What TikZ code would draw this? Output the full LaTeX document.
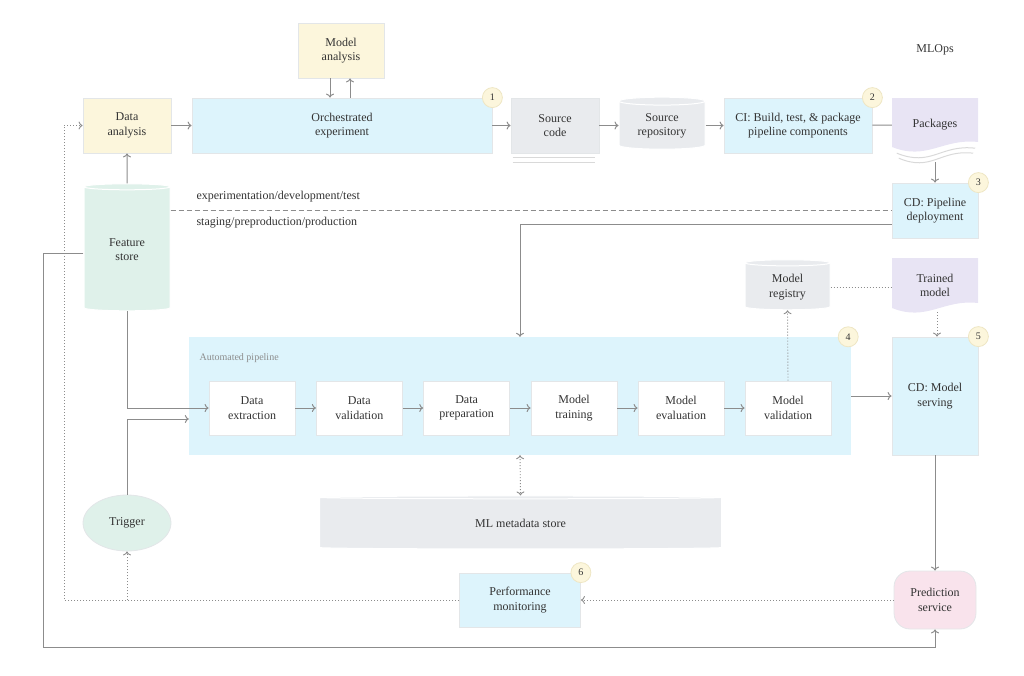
\documentclass[tikz,border=0pt]{standalone}
\usepackage{fontspec}
\setmainfont{Liberation Serif}
\usetikzlibrary{shapes.geometric,arrows.meta,positioning}

\definecolor{txt}{HTML}{333333}
\definecolor{arrgray}{HTML}{8C8C8C}
\definecolor{boxline}{HTML}{E3E6E8}
\definecolor{yfill}{HTML}{FCF6DC}
\definecolor{bfill}{HTML}{DDF4FC}
\definecolor{gfill}{HTML}{E9EBEE}
\definecolor{sfill}{HTML}{DFF1EA}
\definecolor{pfill}{HTML}{E8E4F4}
\definecolor{kfill}{HTML}{F9E3EC}
\definecolor{badgeline}{HTML}{EEE6C4}

\tikzset{
  box/.style={rectangle, draw=boxline, line width=0.8pt, text=txt, align=center,
    inner sep=2pt, minimum height=55pt},
  ybox/.style={box, fill=yfill},
  bbox/.style={box, fill=bfill},
  gbox/.style={box, fill=gfill},
  wbox/.style={box, fill=white, minimum width=86pt, minimum height=54pt},
  store/.style={cylinder, shape border rotate=90, aspect=0.15, draw=white,
    line width=1pt, text=txt, align=center, inner sep=2pt},
  doc/.style={rectangle, text=txt, align=center, inner sep=2pt,
    path picture={\fill[#1] (path picture bounding box.north west)
      -- (path picture bounding box.north east)
      -- ([yshift=10pt]path picture bounding box.south east)
      .. controls +(-35pt,4pt) and +(35pt,-14pt) ..
      ([yshift=5pt]path picture bounding box.south west) -- cycle;}},
  badge/.style={circle, draw=badgeline, line width=0.8pt, fill=yfill, text=txt,
    minimum size=20pt, inner sep=0pt, font=\fontsize{10}{12}\selectfont},
  arr/.style={-{To[length=4pt,width=8pt]}, draw=arrgray, line width=1pt},
  dbl/.style={{To[length=4pt,width=8pt]}-{To[length=4pt,width=8pt]}},
  dots/.style={draw=arrgray, line width=0.9pt, dash pattern=on 1pt off 2pt},
  envline/.style={draw=arrgray, line width=0.8pt, dash pattern=on 5pt off 3pt},
  shadowline/.style={draw=black!15, line width=1pt},
}

\begin{document}
\begin{tikzpicture}[x=1pt, y=-1pt, font=\fontsize{12}{14.5}\selectfont]
  \useasboundingbox (0,0) rectangle (1024,675);

  % experimentation row
  \node[ybox, minimum width=86pt] (madl) at (341,50.5) {Model\\analysis};
  \node[ybox, minimum width=88pt] (dana) at (127,125.5) {Data\\analysis};
  \node[bbox, minimum width=300pt] (orch) at (342,125.5) {Orchestrated\\experiment};
  \node[gbox, minimum width=88pt] (srccode) at (555,125.5) {Source\\code};
  \node[store, fill=gfill, minimum width=86pt, minimum height=52pt] (srcrepo) at (662,126) {Source\\repository};
  \node[bbox, minimum width=148pt] (ci) at (798,125.5) {CI: Build, test, \& package\\pipeline components};
  \node[doc=pfill, minimum width=86pt, minimum height=54pt] (pkg) at (935,125) {Packages};
  \node[bbox, minimum width=86pt] (cdpipe) at (935,210.5) {CD: Pipeline\\deployment};
  \node[text=txt] (mlops) at (935,50) {MLOps};

  \node[store, fill=sfill, minimum width=86pt, minimum height=127pt] (featstore) at (127,249.5) {Feature\\store};
  \node[text=txt, anchor=west] (envdev) at (193,197) {experimentation/development/test};
  \node[text=txt, anchor=west] (envprod) at (193,223) {staging/preproduction/production};

  % automated pipeline
  \node[rectangle, fill=bfill, minimum width=662pt, minimum height=118pt] (autopipe) at (520,396) {};
  \node[text=arrgray, anchor=west, font=\fontsize{10}{12}\selectfont] (autolbl) at (196,358) {Automated pipeline};
  \node[wbox] (dext) at (252,408) {Data\\extraction};
  \node[wbox] (dval) at (359.3,408) {Data\\validation};
  \node[wbox] (dprep) at (466.6,408) {Data\\preparation};
  \node[wbox] (mtrain) at (574,408) {Model\\training};
  \node[wbox] (meval) at (681,408) {Model\\evaluation};
  \node[wbox] (mval) at (788,408) {Model\\validation};

  \node[store, fill=gfill, minimum width=85pt, minimum height=50pt] (registry) at (787.5,287) {Model\\registry};
  \node[doc=pfill, minimum width=86pt, minimum height=55pt] (trained) at (935,285.5) {Trained\\model};
  \node[bbox, minimum width=86pt, minimum height=118pt] (cdserve) at (935,396) {CD: Model\\serving};

  % serving and monitoring
  \node[ellipse, draw=boxline, line width=0.8pt, fill=sfill, text=txt, minimum width=88pt, minimum height=56pt] (trigger) at (127,523) {Trigger};
  \node[store, fill=gfill, aspect=0.03, minimum width=402pt, minimum height=53pt] (mlmeta) at (520.5,523.5) {\raisebox{-6pt}{ML metadata store}};
  \node[bbox, minimum width=121pt, minimum height=54pt] (perfmon) at (520,600) {Performance\\monitoring};
  \node[box, fill=kfill, rounded corners=16pt, minimum width=82pt, minimum height=58pt] (predsvc) at (935,600) {Prediction\\service};

  \node[badge] (b1) at (orch.north east) {1};
  \node[badge] (b2) at (ci.north east) {2};
  \node[badge] (b3) at (cdpipe.north east) {3};
  \node[badge] (b4) at ([xshift=-3pt]autopipe.north east) {4};
  \node[badge] (b5) at (cdserve.north east) {5};
  \node[badge] (b6) at (perfmon.north east) {6};

  \coordinate (loopcorner) at (43,647);
  \coordinate (dotcorner) at (64,125.5);

  % stacked sheets
  \draw[shadowline] ([xshift=2pt,yshift=-4.5pt]srccode.south west) -- ([xshift=-4pt,yshift=-4.5pt]srccode.south east);
  \draw[shadowline] ([xshift=2pt,yshift=-9pt]srccode.south west) -- ([xshift=-4pt,yshift=-9pt]srccode.south east);
  \draw[shadowline] ([xshift=-3pt,yshift=4pt]pkg.south east) .. controls +(-35pt,4pt) and +(35pt,-14pt) .. ([xshift=5pt,yshift=-1pt]pkg.south west);
  \draw[shadowline] ([xshift=-5pt,yshift=-1pt]pkg.south east) .. controls +(-33pt,4pt) and +(33pt,-14pt) .. ([xshift=7pt,yshift=-6pt]pkg.south west);

  \begin{scope}[arr]
    \draw ([xshift=-11pt]madl.south) -- ([xshift=-11pt]madl.south |- orch.north);
    \draw ([xshift=9pt]madl.south |- orch.north) -- ([xshift=9pt]madl.south);
    \draw (dana) -- (orch);
    \draw (orch) -- (srccode);
    \draw (srccode) -- (srcrepo.west |- srccode);
    \draw (srcrepo.east |- ci) -- (ci);
    \draw[-] (ci) -- (pkg);
    \draw ([yshift=-10pt]pkg.south) -- (cdpipe.north);
    \draw ([yshift=-13.5pt]cdpipe.west) -| (autopipe.north);
    \draw (featstore.north) -- (dana.south);
    \draw (featstore.south) |- (dext.west);
    \draw (trigger.north) |- ([yshift=-23pt]autopipe.west);
    \draw ([yshift=-3.5pt]featstore.west) -| (loopcorner) -| (predsvc.south);
    \draw (dext) -- (dval);
    \draw (dval) -- (dprep);
    \draw (dprep) -- (mtrain);
    \draw (mtrain) -- (meval);
    \draw (meval) -- (mval);
    \draw (autopipe.east) -- (cdserve.west);
    \draw (cdserve.south) -- (predsvc.north);
    \draw[dots] (mval.north) -- (registry.south);
    \draw[dots] ([xshift=2pt,yshift=1pt]trained.south) -- ([xshift=2pt]cdserve.north);
    \draw[dots, dbl] (autopipe.south) -- (mlmeta.north);
    \draw[dots] (predsvc.west) -- (perfmon.east);
    \draw[dots] (perfmon.west) -| (dotcorner) -- (dana.west);
    \draw[dots] (trigger.south |- perfmon.west) -- (trigger.south);
  \end{scope}
  \draw[dots] (registry.east) -- (trained.west |- registry.east);
  \draw[envline] (featstore.east |- 0,210) -- (cdpipe.west |- 0,210);
\end{tikzpicture}
\end{document}
